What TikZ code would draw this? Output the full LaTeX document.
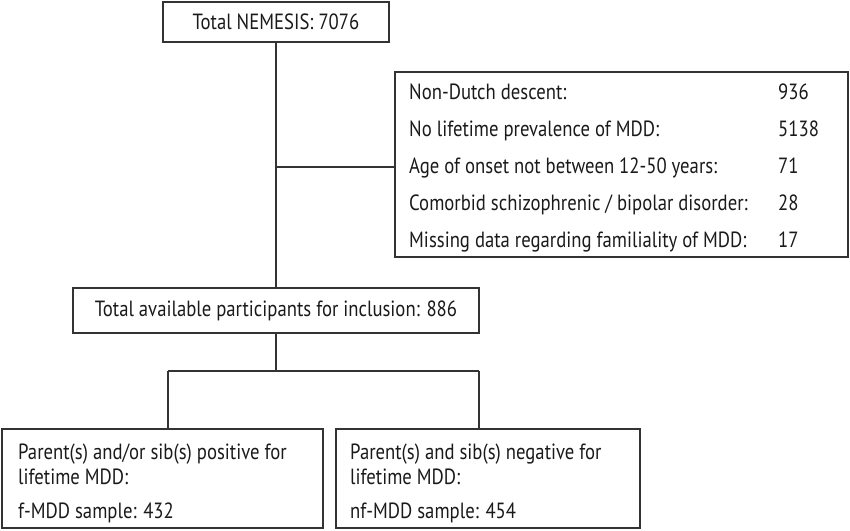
\documentclass[tikz,border=0pt]{standalone}
\usepackage{fontspec}
\setmainfont{PT Sans}[FakeStretch=0.85]
\definecolor{lc}{HTML}{333333}
\definecolor{tc}{HTML}{1A1A1A}
\begin{document}
\begin{tikzpicture}[x=1pt,y=-1pt,
  box/.style={draw=lc, line width=1.2pt, rectangle, inner sep=0pt},
  conn/.style={draw=lc, line width=1.2pt},
  txt/.style={font=\fontsize{22}{26}\selectfont, text=tc, inner sep=0pt}]
\useasboundingbox (0,0) rectangle (850,530);
% boxes
\node[box, minimum width=226pt, minimum height=40pt] (top) at (276,22) {};
\node[txt] (toptxt) at (top.center) {Total NEMESIS: 7076};
\node[box, minimum width=453pt, minimum height=185pt] (excl) at (621.5,164.5) {};
\node[box, minimum width=406pt, minimum height=45pt] (mid) at (276,310.5) {};
\node[txt] (midtxt) at (mid.center) {Total available participants for inclusion: 886};
\node[box, minimum width=321pt, minimum height=99pt] (fmdd) at (162.5,478.5) {};
\node[box, minimum width=304pt, minimum height=99pt] (nfmdd) at (488,478.5) {};
% exclusion rows
\node[txt, anchor=base west] (r1) at (409,99) {Non-Dutch descent:};
\node[txt, anchor=base west] (n1) at (778,99) {936};
\node[txt, anchor=base west] (r2) at (409,136) {No lifetime prevalence of MDD:};
\node[txt, anchor=base west] (n2) at (778,136) {5138};
\node[txt, anchor=base west] (r3) at (409,173) {Age of onset not between 12-50 years:};
\node[txt, anchor=base west] (n3) at (778,173) {71};
\node[txt, anchor=base west] (r4) at (409,210) {Comorbid schizophrenic / bipolar disorder:};
\node[txt, anchor=base west] (n4) at (778,210) {28};
\node[txt, anchor=base west] (r5) at (409,247) {Missing data regarding familiality of MDD:};
\node[txt, anchor=base west] (n5) at (778,247) {17};
% bottom texts
\node[txt, anchor=base west] (f1) at (18,459) {Parent(s) and/or sib(s) positive for};
\node[txt, anchor=base west] (f2) at (18,484) {lifetime MDD:};
\node[txt, anchor=base west] (f3) at (18,518) {f-MDD sample: 432};
\node[txt, anchor=base west] (g1) at (350,459) {Parent(s) and sib(s) negative for};
\node[txt, anchor=base west] (g2) at (350,484) {lifetime MDD:};
\node[txt, anchor=base west] (g3) at (350,518) {nf-MDD sample: 454};
% connectors
\coordinate (j1) at (276,167);
\coordinate (j2) at (276,371);
\coordinate (jl) at (168,371);
\coordinate (jr) at (479,371);
\draw[conn] (top.south) -- (mid.north);
\draw[conn] (j1) -- (j1 -| excl.west);
\draw[conn] (mid.south) -- (j2);
\draw[conn] (jl) -- (jr);
\draw[conn] (jl) -- (jl |- fmdd.north);
\draw[conn] (jr) -- (jr |- nfmdd.north);
\end{tikzpicture}
\end{document}
